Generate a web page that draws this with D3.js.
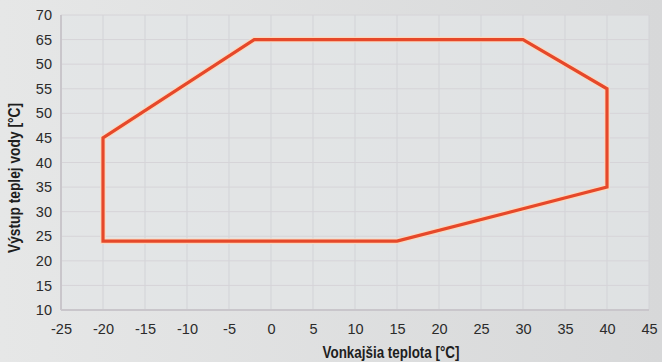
<!DOCTYPE html>
<html>
<head>
<meta charset="utf-8">
<script src="https://cdn.jsdelivr.net/npm/d3@7"></script>
<style>
  body { margin: 0; background: #e2e3e3; }
  svg { display: block; }
</style>
</head>
<body>
<div class="chart"></div>
<script>
// envelope of operation (outdoor temp, water outlet temp)
const envelopeX = [-20, -20, -2, 30, 40, 40, 15]
const envelopeY = [24, 45, 65, 65, 55, 35, 24]

const xTicks = [-25, -20, -15, -10, -5, 0, 5, 10, 15, 20, 25, 30, 35, 40, 45]
const yTicks = [10, 15, 20, 25, 30, 35, 40, 45, 50, 55, 60, 65, 70]
// labels as printed on the original (60 is printed as "50")
const yTickLabels = ["10", "15", "20", "25", "30", "35", "40", "45", "50", "55", "50", "65", "70"]

const xTitle = "Vonkajšia teplota [°C]"
const yTitle = "Výstup teplej vody [°C]"

const W = 662, H = 362
const margin = {top: 15, right: 13, bottom: 52, left: 61}
const width = W - margin.left - margin.right,
      height = H - margin.top - margin.bottom

const svg = d3.select(".chart")
  .append("svg")
    .attr("width", W)
    .attr("height", H)

// soft grey background
const defs = svg.append("defs")
const bg = defs.append("linearGradient").attr("id", "bg")
  .attr("x1", "0").attr("y1", "0").attr("x2", "1").attr("y2", "0")
bg.append("stop").attr("offset", "0%").attr("stop-color", "#e6e7e7")
bg.append("stop").attr("offset", "100%").attr("stop-color", "#d7d8d9")
svg.append("rect").attr("width", W).attr("height", H).attr("fill", "url(#bg)")

const g = svg.append("g")
  .attr("transform", `translate(${margin.left},${margin.top})`)

const x = d3.scaleLinear().domain([-25, 45]).range([0, width])
const y = d3.scaleLinear().domain([10, 70]).range([height, 0])

// plot area
g.append("rect")
  .attr("width", width)
  .attr("height", height)
  .attr("fill", "#e2e5e7")
  .attr("opacity", 0.7)

// grid
g.append("g").selectAll("line")
  .data(xTicks)
  .join("line")
    .attr("x1", d => x(d)).attr("x2", d => x(d))
    .attr("y1", 0).attr("y2", height)
    .attr("stroke", "#d2d3d7")
    .attr("stroke-width", 1)
g.append("g").selectAll("line")
  .data(yTicks)
  .join("line")
    .attr("x1", 0).attr("x2", width)
    .attr("y1", d => y(d)).attr("y2", d => y(d))
    .attr("stroke", "#d6d4d8")
    .attr("stroke-width", 1)

// axis lines
g.append("line").attr("x1", 0).attr("x2", 0).attr("y1", 0).attr("y2", height)
  .attr("stroke", "#c9c6cb").attr("stroke-width", 2)
g.append("line").attr("x1", 0).attr("x2", width).attr("y1", height).attr("y2", height)
  .attr("stroke", "#c9c6cb").attr("stroke-width", 2)

// axes (text only), plain hyphen for negatives like the original
const xAxis = g.append("g")
  .attr("transform", `translate(0,${height})`)
  .call(d3.axisBottom(x).tickValues(xTicks).tickSize(0).tickPadding(10).tickFormat(d => String(d)))
const yAxis = g.append("g")
  .call(d3.axisLeft(y).tickValues(yTicks).tickSize(0).tickPadding(9)
    .tickFormat((d, i) => yTickLabels[i]))
xAxis.select(".domain").remove()
yAxis.select(".domain").remove()
g.selectAll(".tick text")
  .attr("fill", "#2b2b2b")
  .style("font-family", "'Liberation Sans', Arial, sans-serif")
  .style("font-size", "14.5px")
xAxis.selectAll(".tick text").attr("dy", "0.95em")

// envelope
const pts = envelopeX.map((v, i) => [v, envelopeY[i]])
const line = d3.line().x(d => x(d[0])).y(d => y(d[1]))
g.append("path")
  .attr("d", line(pts) + "Z")
  .attr("fill", "none")
  .attr("stroke", "#fbd9bf")
  .attr("stroke-width", 5.5)
  .attr("stroke-linejoin", "miter")
g.append("path")
  .attr("d", line(pts) + "Z")
  .attr("fill", "none")
  .attr("stroke", "#e6482a")
  .attr("stroke-width", 3.2)
  .attr("stroke-linejoin", "miter")

// titles (condensed bold, squeezed to the original width)
svg.append("text")
  .attr("x", 391)
  .attr("y", 358)
  .attr("text-anchor", "middle")
  .attr("textLength", 137)
  .attr("lengthAdjust", "spacingAndGlyphs")
  .style("font-family", "'Liberation Sans', Arial, sans-serif")
  .style("font-weight", "bold")
  .style("font-size", "16.5px")
  .attr("fill", "#1e1e1e")
  .text(xTitle)
svg.append("text")
  .attr("transform", "translate(20,178) rotate(-90)")
  .attr("text-anchor", "middle")
  .attr("textLength", 150)
  .attr("lengthAdjust", "spacingAndGlyphs")
  .style("font-family", "'Liberation Sans', Arial, sans-serif")
  .style("font-weight", "bold")
  .style("font-size", "16.5px")
  .attr("fill", "#1e1e1e")
  .text(yTitle)
</script>
</body>
</html>
